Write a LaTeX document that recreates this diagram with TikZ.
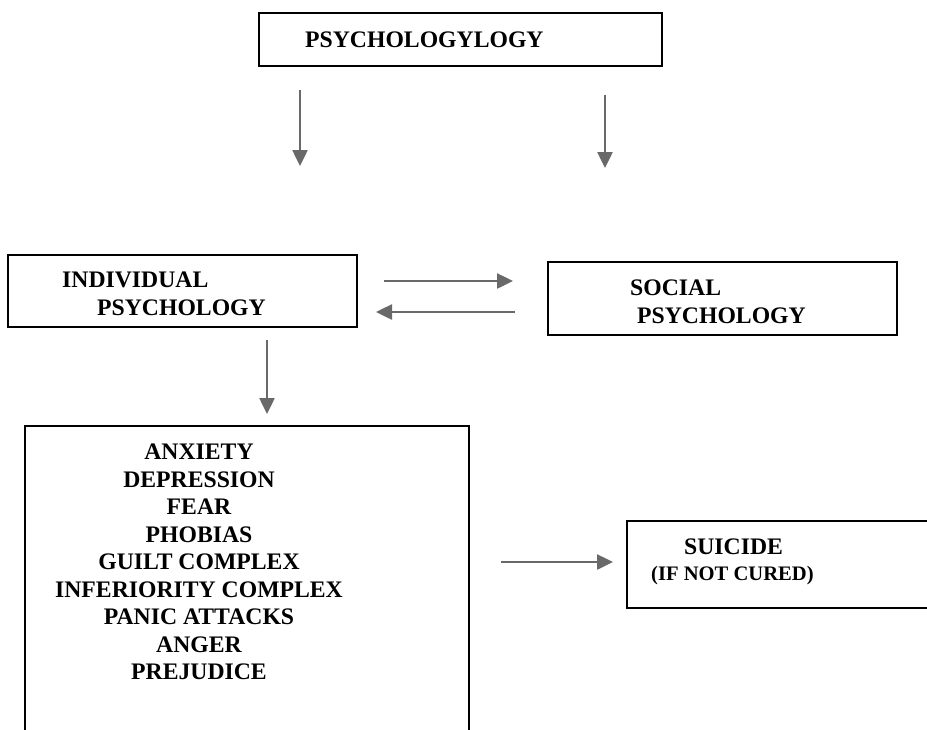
\documentclass[tikz,border=0pt]{standalone}
\usepackage{fontspec}
\setmainfont{Liberation Serif}
\usetikzlibrary{arrows.meta}

\definecolor{arrowgray}{HTML}{696969}

\tikzset{
  box/.style={draw=black,line width=1.6pt,fill=none,inner sep=0pt},
  lbl/.style={font=\fontsize{23.7}{27.5}\selectfont\bfseries,inner sep=0pt},
  small/.style={font=\fontsize{20.6}{24}\selectfont\bfseries,inner sep=0pt},
  flow/.style={draw=arrowgray,line width=2.5pt,-{Triangle[length=16pt,width=15pt]}}
}

\begin{document}
\begin{tikzpicture}[x=1pt,y=-1pt]
\useasboundingbox (0,0) rectangle (927,729);
\clip (0,0) rectangle (927,729);

% Boxes
\node[box,minimum width=403pt,minimum height=53pt] (top) at (460.5,39.5) {};
\node[box,minimum width=349pt,minimum height=72pt] (indiv) at (182.5,291) {};
\node[box,minimum width=349pt,minimum height=73pt] (social) at (722.5,298.5) {};
\node[box,minimum width=444pt,minimum height=330pt] (list) at (247,591) {};
\node[box,minimum width=320pt,minimum height=87pt] (suicide) at (787,564.5) {};

% Texts
\node[lbl,anchor=west] (toptxt) at (305,40) {PSYCHOLOGYLOGY};
\node[lbl,anchor=west] (indivA) at (62,280) {INDIVIDUAL};
\node[lbl,anchor=west] (indivB) at (97,308) {PSYCHOLOGY};
\node[lbl,anchor=west] (socialA) at (630,288) {SOCIAL};
\node[lbl,anchor=west] (socialB) at (637,316) {PSYCHOLOGY};
\node[lbl,align=center] (listtxt) at (199,562) {ANXIETY\\DEPRESSION\\FEAR\\PHOBIAS\\GUILT COMPLEX\\INFERIORITY COMPLEX\\PANIC ATTACKS\\ANGER\\PREJUDICE};
\node[lbl,anchor=west] (suicideA) at (684,547) {SUICIDE};
\node[small,anchor=west] (suicideB) at (651,576) {(IF NOT CURED)};

% Arrow end points
\coordinate (a1s) at (300,90);
\coordinate (a1e) at (300,166);
\coordinate (a2s) at (605,95);
\coordinate (a2e) at (605,168);
\coordinate (a3s) at (384,281);
\coordinate (a3e) at (513,281);
\coordinate (a4s) at (515,312);
\coordinate (a4e) at (376,312);
\coordinate (a5s) at (267,340);
\coordinate (a5e) at (267,414);
\coordinate (a6s) at (501,562);
\coordinate (a6e) at (613,562);

% Arrows
\draw[flow] (a1s) -- (a1e);
\draw[flow] (a2s) -- (a2e);
\draw[flow] (a3s) -- (a3e);
\draw[flow] (a4s) -- (a4e);
\draw[flow] (a5s) -- (a5e);
\draw[flow] (a6s) -- (a6e);

\end{tikzpicture}
\end{document}
